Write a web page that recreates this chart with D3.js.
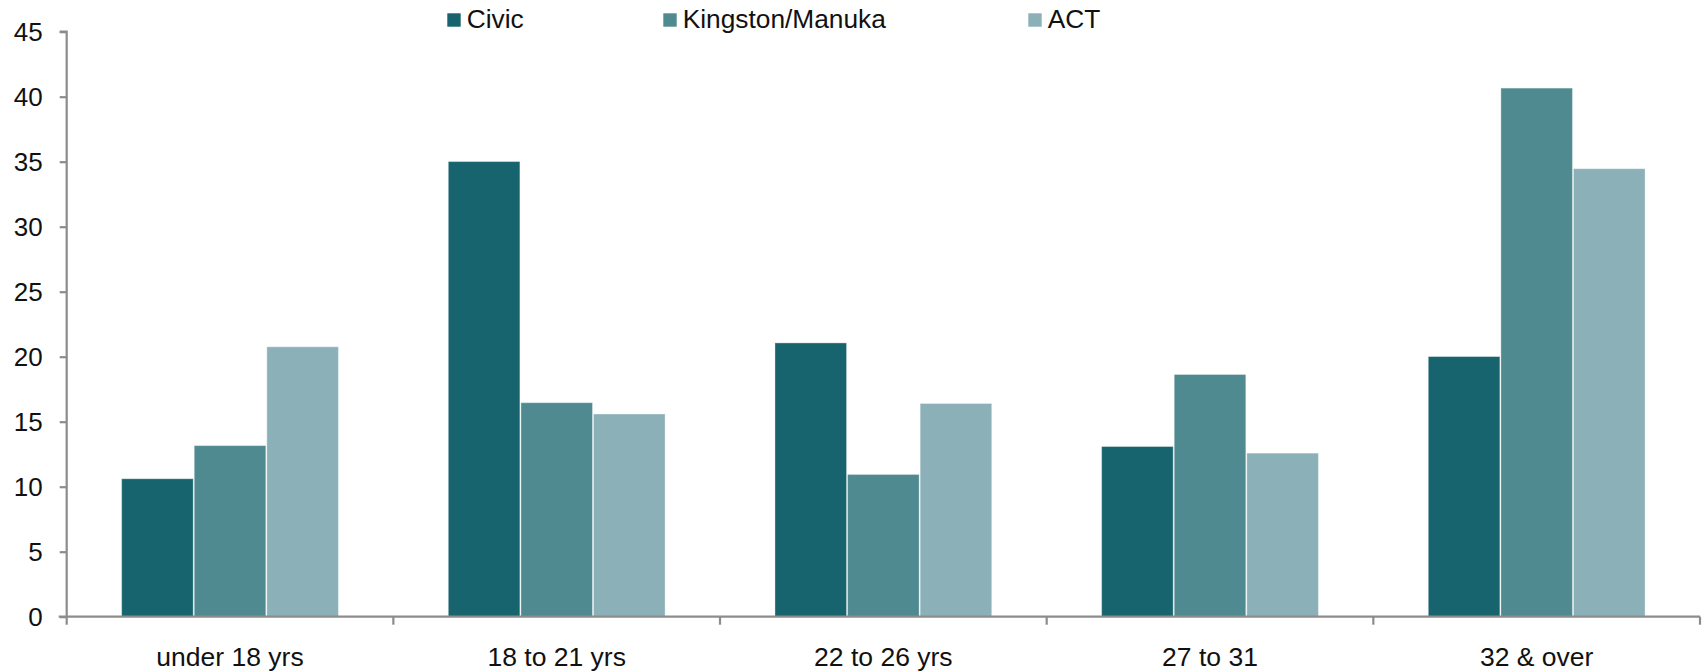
<!DOCTYPE html>
<html>
<head>
<meta charset="utf-8">
<script src="https://cdn.jsdelivr.net/npm/d3@7/dist/d3.min.js"></script>
<style>
  html, body { margin: 0; padding: 0; background: #ffffff; }
  svg { display: block; }
  text { font-family: "Liberation Sans", Arial, sans-serif; fill: #111; }
</style>
</head>
<body>
<svg id="chart" width="1707" height="672"></svg>
<script>
// ---- data ----
const categories = ["under 18 yrs", "18 to 21 yrs", "22 to 26 yrs", "27 to 31", "32 & over"];
const seriesNames = ["Civic", "Kingston/Manuka", "ACT"];
const civic    = [10.65, 35.05, 21.1, 13.13, 20.05];
const kingston = [13.2, 16.5, 10.98, 18.67, 40.7];
const act      = [20.8, 15.63, 16.44, 12.62, 34.5];
const yTicks   = [0, 5, 10, 15, 20, 25, 30, 35, 40, 45];

const seriesValues = [civic, kingston, act];
const colors = ["#17646E", "#508A91", "#8BB0B7"];

(function () {
// ---- layout ----
const svg = d3.select("#chart");
const mLeft = 66.7, mRight = 1700, mTop = 31.7, mBottom = 616.7;

const x = d3.scaleBand().domain(categories).range([mLeft, mRight])
  .paddingInner(1/3).paddingOuter(1/6);
const xs = d3.scaleBand().domain(seriesNames).range([0, x.bandwidth()]).padding(0);
const y = d3.scaleLinear().domain([0, 45]).range([mBottom, mTop]);

// bars
const groups = svg.append("g").selectAll("g")
  .data(categories).join("g")
  .attr("transform", d => `translate(${x(d)},0)`);

groups.selectAll("rect")
  .data((c, i) => seriesNames.map((s, j) => ({ s, j, v: seriesValues[j][i] })))
  .join("rect")
  .attr("x", d => xs(d.s) + 0.5)
  .attr("width", xs.bandwidth() - 1)
  .attr("y", d => y(d.v) + 0.5)
  .attr("height", d => y(0) - y(d.v) - 0.5)
  .attr("fill", d => colors[d.j])
  .attr("stroke", "rgba(255,255,255,0.35)")
  .attr("stroke-width", 1);

// y axis
const yAxis = svg.append("g")
  .attr("transform", `translate(${mLeft},0)`)
  .call(d3.axisLeft(y).tickValues(yTicks).tickSize(7).tickPadding(17));
yAxis.select(".domain").attr("stroke", "#8c8c8c").attr("stroke-width", 2.2)
  .attr("d", `M-7,${mTop}H0V${mBottom}`);
yAxis.selectAll(".tick line").attr("stroke", "#8c8c8c").attr("stroke-width", 2.2);
yAxis.selectAll(".tick text").attr("font-size", 26).attr("fill", "#111")
  .attr("font-family", "Liberation Sans, Arial, sans-serif");

// x axis (ticks at category boundaries)
const boundaries = d3.range(categories.length + 1).map(i => mLeft + i * x.step());
const xAxisG = svg.append("g");
xAxisG.append("line")
  .attr("x1", mLeft - 8).attr("x2", mRight)
  .attr("y1", mBottom).attr("y2", mBottom)
  .attr("stroke", "#8c8c8c").attr("stroke-width", 2.2);
xAxisG.selectAll("line.tk").data(boundaries).join("line")
  .attr("class", "tk")
  .attr("x1", d => d).attr("x2", d => d)
  .attr("y1", mBottom).attr("y2", mBottom + 8)
  .attr("stroke", "#8c8c8c").attr("stroke-width", 2.2);
xAxisG.selectAll("text").data(categories).join("text")
  .attr("x", d => x(d) + x.bandwidth() / 2)
  .attr("y", 666)
  .attr("text-anchor", "middle")
  .attr("font-size", 26.5)
  .text(d => d);

// legend
const legendX = [447.3, 663.3, 1028.3];
const legend = svg.append("g").selectAll("g").data(seriesNames).join("g")
  .attr("transform", (d, i) => `translate(${legendX[i]},13.3)`);
legend.append("rect").attr("width", 13.4).attr("height", 13.4)
  .attr("fill", (d, i) => colors[i]);
legend.append("text").attr("x", 19.4).attr("y", 15).attr("font-size", 26.3)
  .text(d => d);
})();
</script>
</body>
</html>
